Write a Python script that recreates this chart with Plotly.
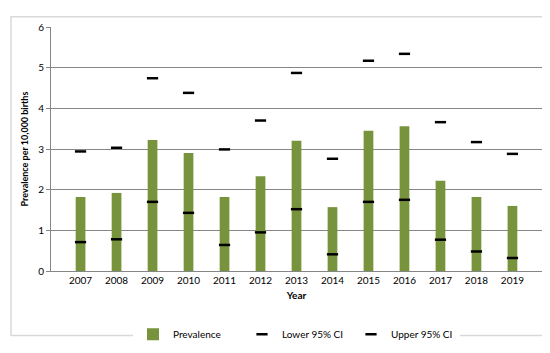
import plotly.graph_objects as go

years = ["2007","2008","2009","2010","2011","2012","2013","2014","2015","2016","2017","2018","2019"]
prevalence = [1.82,1.92,3.22,2.90,1.82,2.33,3.20,1.57,3.45,3.56,2.22,1.82,1.60]
lower = [0.71,0.78,1.70,1.43,0.64,0.95,1.52,0.41,1.70,1.75,0.77,0.48,0.32]
upper = [2.94,3.03,4.74,4.38,2.99,3.70,4.87,2.76,5.17,5.34,3.66,3.17,2.88]

font = "Lato, Open Sans, sans-serif"
fig = go.Figure()
fig.add_trace(go.Bar(x=years, y=prevalence, name="Prevalence", marker_color="#77933C",
                     marker_line_width=0, width=0.27))
fig.add_trace(go.Scatter(x=years, y=lower, name="Lower 95% CI", mode="markers",
                         marker=dict(symbol="line-ew", size=8, line=dict(width=2.5, color="black"))))
fig.add_trace(go.Scatter(x=years, y=upper, name="Upper 95% CI", mode="markers",
                         marker=dict(symbol="line-ew", size=8, line=dict(width=2.5, color="black"))))

fig.update_layout(
    width=550, height=353,
    margin=dict(l=43, r=16, t=14, b=74),
    plot_bgcolor="white", paper_bgcolor="white",
    font=dict(family=font, size=10, color="black"),
    showlegend=True,
    legend=dict(orientation="h", x=0.5, xanchor="center", y=-0.2, yanchor="top",
                font=dict(size=10), itemwidth=30, entrywidth=64, entrywidthmode="pixels"),
    shapes=[dict(type="rect", xref="paper", yref="paper", x0=-0.0815, x1=1.0204,
                 y0=-0.264, y1=1.0415, line=dict(color="#D9D9D9", width=1.5), layer="below")],
)
fig.update_xaxes(showline=True, linecolor="#868686", linewidth=1, ticks="",
                 title=dict(text="<b>Year</b>", font=dict(size=10), standoff=6),
                 tickfont=dict(size=10))
fig.update_yaxes(range=[0, 6], dtick=1, showgrid=True, gridcolor="#868686", gridwidth=1,
                 showline=True, linecolor="#868686", ticks="outside", ticklen=4, tickcolor="#868686",
                 title=dict(text="<b>Prevalence per 10,000 births</b>", font=dict(size=9), standoff=8),
                 tickfont=dict(size=10), zeroline=False)
fig.write_html("out.html")
